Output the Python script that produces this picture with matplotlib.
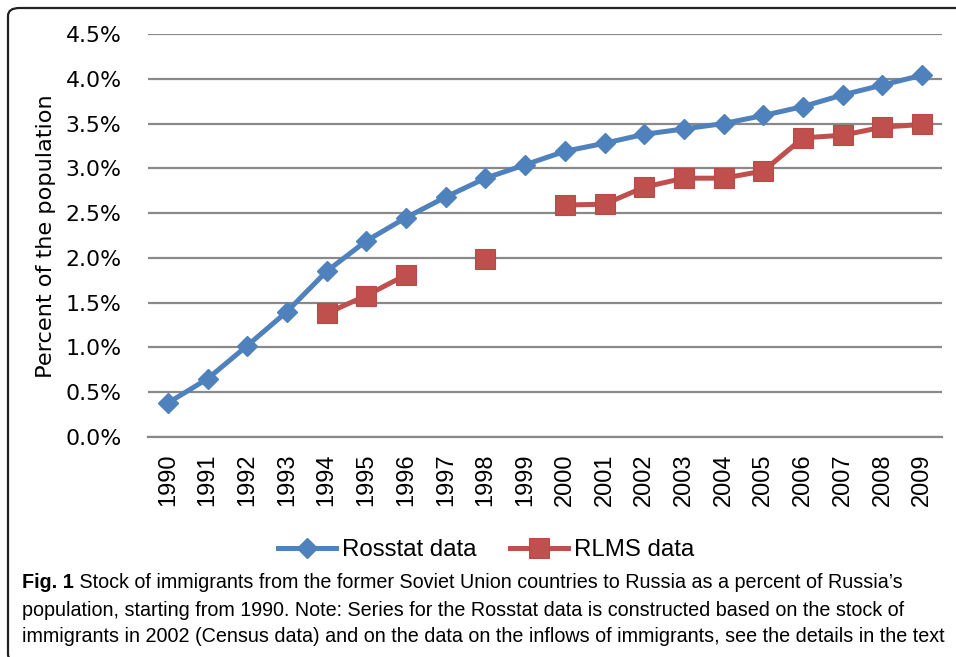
import matplotlib
matplotlib.use("Agg")
import matplotlib.pyplot as plt
from matplotlib.patches import FancyBboxPatch
import numpy as np

# data (percent of population)
years = [str(y) for y in range(1990, 2010)]
rosstat = [0.38, 0.65, 1.02, 1.40, 1.85, 2.19, 2.45, 2.68, 2.89, 3.04,
           3.19, 3.28, 3.38, 3.44, 3.50, 3.59, 3.69, 3.82, 3.93, 4.04]
rlms = [np.nan, np.nan, np.nan, np.nan, 1.38, 1.58, 1.81, np.nan, 1.99, np.nan,
        2.59, 2.60, 2.79, 2.89, 2.89, 2.97, 3.34, 3.37, 3.46, 3.49]
yticks = [0.0, 0.5, 1.0, 1.5, 2.0, 2.5, 3.0, 3.5, 4.0, 4.5]

caption_bold = "Fig. 1"
caption_lines = [
    " Stock of immigrants from the former Soviet Union countries to Russia as a percent of Russia\u2019s",
    "population, starting from 1990. Note: Series for the Rosstat data is constructed based on the stock of",
    "immigrants in 2002 (Census data) and on the data on the inflows of immigrants, see the details in the text",
]

blue = "#4F81BD"
red = "#C0504D"
grid_col = "#898989"
cap_font = ["Liberation Sans", "DejaVu Sans"]

W, H = 956, 657
fig = plt.figure(figsize=(W / 100, H / 100), dpi=100)

# frame around the figure (right and bottom edges fall outside the picture)
frame = FancyBboxPatch((8 / W, (H - 662) / H), (990 - 8) / W, (662 - 8) / H,
                       boxstyle="round,pad=0,rounding_size=0.012",
                       transform=fig.transFigure, fill=False,
                       edgecolor="#222222", linewidth=1.6)
fig.patches.append(frame)

ax = fig.add_axes([148 / W, 1 - 437 / H, (942 - 148) / W, (437 - 34) / H])
x = np.arange(len(years))

ax.plot(x, rosstat, color=blue, lw=3.6, marker="D", ms=10.5,
        mfc=blue, mec=blue, label="Rosstat data", zorder=3)
ax.plot(x, rlms, color=red, lw=3.6, marker="s", ms=14,
        mfc=red, mec="#B94A47", mew=0.8, label="RLMS data", zorder=3)

ax.set_xlim(-0.5, len(years) - 0.5)
ax.set_ylim(0, 4.5)
ax.set_yticks(yticks)
ax.set_yticklabels([f"{v:.1f}%" for v in yticks], fontsize=15.8,
                   family="DejaVu Sans")
ax.set_xticks(x)
ax.set_xticklabels(years, rotation=90, fontsize=17, family="Liberation Sans")
ax.tick_params(axis="both", length=0)
ax.tick_params(axis="y", pad=19)
ax.tick_params(axis="x", pad=12)

ax.grid(axis="y", color=grid_col, lw=1.6)
ax.set_axisbelow(True)
for s in ["top", "right", "left"]:
    ax.spines[s].set_visible(False)
ax.spines["bottom"].set_color(grid_col)
ax.spines["bottom"].set_linewidth(1.6)

fig.text(46 / W, 1 - 236 / H, "Percent of the population", rotation=90,
         ha="center", va="center", fontsize=16.2, family="DejaVu Sans")

leg = ax.legend(loc="center", bbox_to_anchor=(486 / W, 1 - 550 / H),
                bbox_transform=fig.transFigure, ncol=2, frameon=False,
                prop={"family": "Liberation Sans", "size": 17.3},
                handlelength=2.4, handletextpad=0.25, columnspacing=1.4,
                borderpad=0)

# caption with bold "Fig. 1" prefix
cap_size = 14.2
ys = [583, 610, 636]
t0 = fig.text(22 / W, 1 - ys[0] / H, caption_bold, fontsize=cap_size,
              family=cap_font, weight="bold", va="center", ha="left")
fig.canvas.draw()
bb = t0.get_window_extent()
fig.text(bb.x1 / W, 1 - ys[0] / H, caption_lines[0], fontsize=cap_size,
         family=cap_font, va="center", ha="left")
for line, yy in zip(caption_lines[1:], ys[1:]):
    fig.text(22 / W, 1 - yy / H, line, fontsize=cap_size, family=cap_font,
             va="center", ha="left")

fig.savefig("out.png", dpi=100)
